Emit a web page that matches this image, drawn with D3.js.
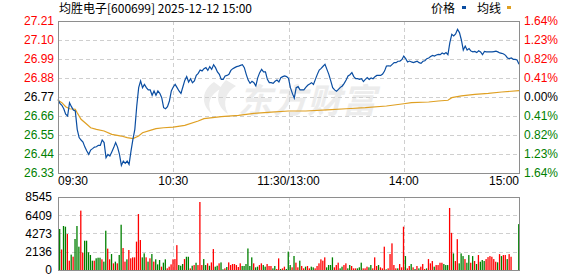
<!DOCTYPE html>
<html>
<head>
<meta charset="utf-8">
<script src="https://cdn.jsdelivr.net/npm/d3@7"></script>
<style>
body { margin: 0; background: #fff; }
svg text { font-family: Arial, "Liberation Sans", sans-serif; font-size: 12px; }
</style>
</head>
<body>
<div id="chart"></div>
<script>
// 均胜电子 intraday, 2025-12-12
var title = "均胜电子[600699] 2025-12-12 15:00";
var preClose = 26.77;
var priceTicks = [27.21, 27.10, 26.99, 26.88, 26.77, 26.66, 26.55, 26.44, 26.33];
var pctTicks = ["1.64%", "1.23%", "0.82%", "0.41%", "0.00%", "0.41%", "0.82%", "1.23%", "1.64%"];
var volTicks = [8545, 6409, 4273, 2136, 0];
var timeLabels = ["09:30", "10:30", "11:30/13:00", "14:00", "15:00"];
var timeMinutes = [0, 60, 120, 180, 240];

// one price per minute, 09:30 .. 15:00 (lunch break squeezed out)
var price = [
  26.756,26.733,26.722,26.702,26.670,26.660,26.737,26.714,26.695,26.689,
  26.583,26.535,26.521,26.509,26.480,26.457,26.438,26.463,26.471,26.480,
  26.482,26.490,26.490,26.521,26.506,26.419,26.438,26.428,26.452,26.477,
  26.506,26.480,26.438,26.374,26.399,26.386,26.399,26.380,26.457,26.525,
  26.583,26.718,26.824,26.863,26.824,26.843,26.824,26.811,26.811,26.780,
  26.805,26.780,26.805,26.791,26.766,26.708,26.702,26.714,26.747,26.805,
  26.828,
  26.843,26.824,26.805,26.791,26.828,26.866,26.888,26.857,26.876,26.853,
  26.863,26.895,26.907,26.926,26.921,26.934,26.940,26.924,26.946,26.930,
  26.957,26.940,26.915,26.901,26.872,26.872,26.892,26.895,26.901,26.924,
  26.934,26.940,26.946,26.949,26.953,26.957,26.940,26.901,26.868,26.849,
  26.861,26.853,26.834,26.882,26.911,26.930,26.915,26.915,26.872,26.853,
  26.853,26.849,26.861,26.868,26.857,26.882,26.888,26.892,26.888,26.878,
  26.824,26.791,26.764,26.824,26.830,26.811,26.811,26.811,26.826,26.838,
  26.845,26.853,26.843,26.872,26.901,26.926,26.936,26.948,26.959,26.930,
  26.901,26.863,26.824,26.811,26.803,26.814,26.826,26.834,26.849,26.868,
  26.892,26.899,26.911,26.888,26.876,26.876,26.872,26.876,26.859,26.872,
  26.882,26.872,26.880,26.876,26.888,26.895,26.895,26.895,26.903,26.920,
  26.949,26.951,26.949,26.959,26.969,26.969,26.977,26.978,26.986,27.007,
  26.992,26.973,26.978,26.973,26.969,26.973,26.977,26.969,26.965,26.977,
  26.980,26.992,26.996,27.004,27.011,27.007,27.013,27.017,27.015,27.025,
  27.019,27.027,27.015,27.085,27.133,27.123,27.135,27.162,27.143,27.100,
  27.042,27.065,27.042,27.050,27.036,27.031,27.034,27.027,27.038,27.031,
  27.015,27.034,27.031,27.031,27.031,27.031,27.033,27.035,27.031,27.025,
  27.023,27.019,27.011,26.996,26.992,26.996,26.988,26.988,26.984,26.959
];

// average price line, read at these minutes
var avgMinute = [0,2,4,6,9,10,12,15,17,20,24,28,33,36,39,42,44,48,51,55,60,66,73,76,85,94,102,111,120,129,140,150,160,171,180,184,193,198,203,205,210,217,224,231,240];
var avgPrice = [26.751,26.737,26.714,26.702,26.699,26.679,26.641,26.612,26.592,26.583,26.573,26.554,26.544,26.535,26.529,26.544,26.563,26.577,26.587,26.592,26.596,26.606,26.631,26.645,26.656,26.664,26.675,26.683,26.689,26.689,26.695,26.702,26.708,26.718,26.731,26.737,26.741,26.747,26.751,26.766,26.776,26.785,26.791,26.799,26.807];

// volume for minutes 1..240, volUp: 1 = red bar, 0 = green bar
var volume = [
  4800,2400,5150,5070,4210,1090,1800,1560,3630,5150,
  2730,6950,2030,3430,3430,2070,1760,1090,1090,1370,
  1440,1440,1250,980,4600,2500,1250,1870,780,980,
  780,1760,5300,2570,980,1250,2340,1370,1480,1480,
  3320,6550,3510,1480,1950,1480,980,1370,1870,980,
  1250,660,1170,390,860,1250,200,390,660,1250,
  1280,2910,580,500,700,1280,1550,1550,190,500,
  580,850,580,7960,580,1280,580,780,500,890,
  2450,390,500,780,890,80,190,350,890,580,
  700,700,580,350,780,470,470,700,2520,470,
  1480,780,310,390,580,780,580,390,700,470,
  470,190,470,120,1360,120,190,390,120,2150,
  585,312,1640,860,312,1090,470,195,390,470,
  195,390,312,195,470,780,1250,1090,1480,312,
  585,585,1480,312,585,860,195,390,585,780,
  195,585,470,195,195,195,312,860,195,195,
  390,312,585,195,1480,470,585,312,195,2730,
  80,195,1870,3120,585,195,195,700,312,5070,
  1630,190,470,700,310,120,470,190,390,700,
  120,190,1280,780,1050,390,580,580,850,850,
  700,580,580,7260,4350,1940,1050,3610,780,1940,
  1630,1280,850,1750,850,1630,1050,700,1750,970,
  1170,1050,1280,1510,1630,1550,1280,970,900,1860,
  1630,1750,1750,1280,1860,1550,0,0,0,5370
];
var volUp = [
  0,1,0,0,1,1,0,1,0,0, 0,1,1,0,0,0,0,0,1,0, 0,0,1,0,0,1,1,0,1,0,
  1,0,0,1,1,0,1,1,1,1, 1,1,1,0,0,1,0,1,0,1, 0,0,0,1,0,0,1,1,1,1,
  1,1,0,0,0,1,0,0,1,0, 1,0,1,1,1,0,0,1,0,1, 1,0,0,1,0,0,1,0,1,1,
  1,1,1,1,1,0,0,0,0,0, 0,1,0,0,1,1,0,0,1,1, 1,0,0,1,1,0,1,1,0,0,
  0,1,0,1,1,0,1,1,0,1, 1,0,0,1,1,1,1,1,1,0, 0,0,0,1,1,1,0,0,1,1,
  0,0,1,1,1,0,0,0,1,1, 1,0,0,1,1,1,0,1,1,1, 0,1,1,1,1,1,0,1,1,1,
  0,1,1,0,1,0,1,0,1,1, 1,0,1,1,1,0,1,1,1,1, 0,0,0,1,1,0,1,1,0,0,
  0,1,0,0,1,0,1,0,1,0, 0,0,1,1,1,1,1,1,0,1, 0,1,1,0,1,1,0,0,0,0
];

var width = 578, height = 276;
var RED = "#ff0000", GREEN = "#008000";

var svg = d3.select("#chart").append("svg")
    .attr("width", width)
    .attr("height", height);

var x = d3.scaleLinear().domain([0, 240]).range([58, 519]);
var yP = d3.scaleLinear().domain([26.33, 27.21]).range([173, 21]);
var yV = d3.scaleLinear().domain([0, 8545]).range([270, 197]);

function tickColor(v) {
    if (Math.abs(v - preClose) < 1e-6) return "#000";
    return v > preClose ? RED : GREEN;
}

// title + legend
svg.append("text").attr("x", 59).attr("y", 13)
    .style("font-family", "'Noto Sans CJK SC', sans-serif")
    .text(title);
svg.append("text").attr("x", 431).attr("y", 13)
    .style("font-family", "'Noto Sans CJK SC', sans-serif").text("价格");
svg.append("rect").attr("x", 462).attr("y", 6).attr("width", 4).attr("height", 3).attr("fill", "#0b4ea2");
svg.append("text").attr("x", 477).attr("y", 13)
    .style("font-family", "'Noto Sans CJK SC', sans-serif").text("均线");
svg.append("rect").attr("x", 507).attr("y", 6).attr("width", 4).attr("height", 3).attr("fill", "#dfa023");

// watermark (logo swoosh + name)
var wm = svg.append("g").attr("fill", "#ececec");
wm.append("path")
    .attr("d", "M214,82 C202,90 200,104 212,114 C206,104 210,94 222,88 Z M226,80 C214,92 216,106 228,114 C222,102 226,92 236,86 Z");
wm.append("text").attr("x", 238).attr("y", 113)
    .style("font-family", "'Noto Sans CJK SC', sans-serif")
    .style("font-size", "34px").style("font-weight", "bold").style("font-style", "italic")
    .attr("textLength", 138)
    .text("东方财富");

// grids
function grid(g, yTicks, yScale, top, bottom) {
    g.selectAll(".h").data(yTicks.slice(1, -1)).enter().append("line")
        .attr("x1", 58).attr("x2", 519)
        .attr("y1", function(d) { return Math.round(yScale(d)) + 0.5; })
        .attr("y2", function(d) { return Math.round(yScale(d)) + 0.5; })
        .attr("stroke", "#cfcfcf").attr("stroke-dasharray", "4,3");
    g.selectAll(".v").data(timeMinutes.slice(1, -1)).enter().append("line")
        .attr("x1", function(d) { return Math.round(x(d)) + 0.5; })
        .attr("x2", function(d) { return Math.round(x(d)) + 0.5; })
        .attr("y1", top).attr("y2", bottom)
        .attr("stroke", "#cfcfcf").attr("stroke-dasharray", "4,3");
}
grid(svg.append("g"), priceTicks, yP, 21, 173);
grid(svg.append("g"), volTicks, yV, 197, 270);

// avg line and price line
svg.append("path")
    .datum(avgMinute.map(function(m, i) { return [m, avgPrice[i]]; }))
    .attr("fill", "none").attr("stroke", "#dfa023").attr("stroke-width", 1.2)
    .attr("d", d3.line().x(function(d) { return x(d[0]); }).y(function(d) { return yP(d[1]); }));

svg.append("path")
    .datum(price)
    .attr("fill", "none").attr("stroke", "#0b4ea2").attr("stroke-width", 1.2)
    .attr("d", d3.line().x(function(d, i) { return x(i); }).y(function(d) { return yP(d); }));

// volume bars
svg.append("g").selectAll("rect").data(volume).enter().append("rect")
    .attr("x", function(d, i) { return x(i + 1) - 0.9; })
    .attr("width", 1.3)
    .attr("y", function(d) { return yV(d); })
    .attr("height", function(d) { return yV(0) - yV(d); })
    .attr("fill", function(d, i) { return volUp[i] ? RED : GREEN; });

// frames
svg.append("rect").attr("x", 58.5).attr("y", 21.5).attr("width", 461).attr("height", 152)
    .attr("fill", "none").attr("stroke", "#8e8e8e");
svg.append("rect").attr("x", 58.5).attr("y", 197.5).attr("width", 461).attr("height", 73)
    .attr("fill", "none").attr("stroke", "#8e8e8e");

// axes
var leftAxis = svg.append("g").attr("transform", "translate(58,0)")
    .call(d3.axisLeft(yP).tickValues(priceTicks).tickFormat(d3.format(".2f")).tickSize(0).tickPadding(4));
leftAxis.select(".domain").remove();
leftAxis.selectAll("text").style("font-size", "12px").attr("fill", function(d) { return tickColor(d); });

var rightAxis = svg.append("g").attr("transform", "translate(519,0)")
    .call(d3.axisRight(yP).tickValues(priceTicks).tickFormat(function(d, i) { return pctTicks[i]; }).tickSize(0).tickPadding(5));
rightAxis.select(".domain").remove();
rightAxis.selectAll("text").style("font-size", "12px").attr("fill", function(d) { return tickColor(d); });

var volAxis = svg.append("g").attr("transform", "translate(58,0)")
    .call(d3.axisLeft(yV).tickValues(volTicks).tickFormat(d3.format("d")).tickSize(0).tickPadding(6));
volAxis.select(".domain").remove();
volAxis.selectAll("text").style("font-size", "12px").attr("fill", "#000");

var anchors = ["start", "middle", "middle", "middle", "end"];
svg.append("g").selectAll("text").data(timeLabels).enter().append("text")
    .attr("x", function(d, i) { return x(timeMinutes[i]); })
    .attr("y", 185)
    .attr("text-anchor", function(d, i) { return anchors[i]; })
    .attr("fill", "#000")
    .text(function(d) { return d; });
</script>
</body>
</html>
